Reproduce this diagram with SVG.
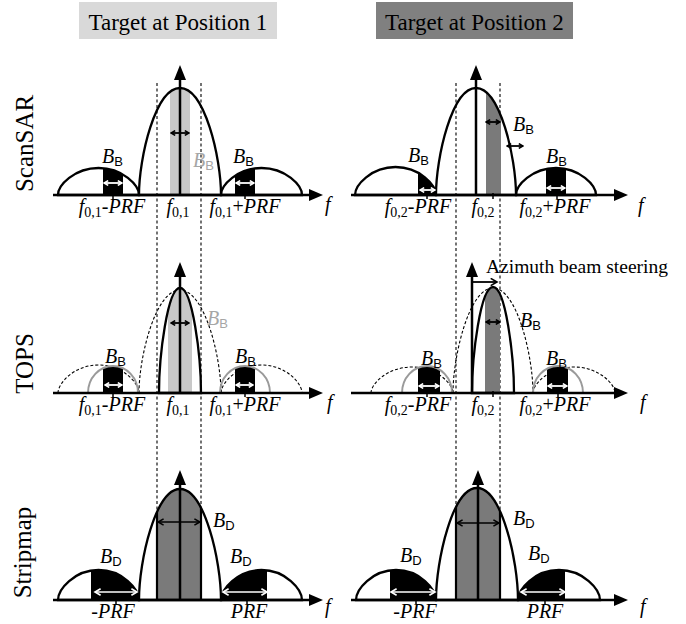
<svg xmlns="http://www.w3.org/2000/svg" xmlns:xlink="http://www.w3.org/1999/xlink" width="686" height="624" viewBox="0 0 686 624">
<style>
.ax{stroke:#000;stroke-width:2.5;fill:none}
.lobe{stroke:#000;stroke-width:2.3;fill:none}
.dash{stroke:#000;stroke-width:1.1;stroke-dasharray:3 2.5;fill:none}
.dl{stroke:#000;stroke-width:1.1;stroke-dasharray:3 2;fill:none}
.garc{stroke:#9a9a9a;stroke-width:2;fill:none}
.tick{stroke:#000;stroke-width:1.5}
.t{font-family:"Liberation Serif","Times New Roman",serif;font-size:20px;fill:#000}
.it{font-style:italic}
.sub{font-size:14px;font-style:normal}
.ss{font-family:"Liberation Sans",Arial,sans-serif;font-size:13px;font-style:normal}
.ah{fill:#000}
.ba{stroke:#000;stroke-width:1.8;fill:none;marker-start:url(#hb);marker-end:url(#hb)}
.wa{stroke:#fff;stroke-width:1.8;fill:none;marker-start:url(#hw);marker-end:url(#hw)}
.bl{stroke:#000;stroke-width:1.5;fill:none;marker-start:url(#hbL);marker-end:url(#hbL)}
.wl{stroke:#fff;stroke-width:1.6;fill:none;marker-start:url(#hwL);marker-end:url(#hwL)}
.side{font-family:"Liberation Serif","Times New Roman",serif;font-size:25px;fill:#000}
.hd{font-family:"Liberation Serif","Times New Roman",serif;font-size:23px;fill:#000}
</style>
<defs>
<marker id="hb" viewBox="0 0 10 10" refX="8" refY="5" markerWidth="6" markerHeight="6" markerUnits="userSpaceOnUse" orient="auto-start-reverse"><path d="M1,1 L8,5 L1,9" fill="none" stroke="#000" stroke-width="2.6"/></marker>
<marker id="hw" viewBox="0 0 10 10" refX="8" refY="5" markerWidth="6" markerHeight="6" markerUnits="userSpaceOnUse" orient="auto-start-reverse"><path d="M1,1 L8,5 L1,9" fill="none" stroke="#fff" stroke-width="2.6"/></marker>
<marker id="hbL" viewBox="0 0 10 10" refX="8" refY="5" markerWidth="8" markerHeight="8" markerUnits="userSpaceOnUse" orient="auto-start-reverse"><path d="M1,1 L8,5 L1,9" fill="none" stroke="#000" stroke-width="1.9"/></marker>
<marker id="hwL" viewBox="0 0 10 10" refX="8" refY="5" markerWidth="8" markerHeight="8" markerUnits="userSpaceOnUse" orient="auto-start-reverse"><path d="M1,1 L8,5 L1,9" fill="none" stroke="#fff" stroke-width="2"/></marker>
<marker id="hbA" viewBox="0 0 10 10" refX="8" refY="5" markerWidth="9" markerHeight="9" markerUnits="userSpaceOnUse" orient="auto"><path d="M1,1 L8,5 L1,9" fill="none" stroke="#000" stroke-width="1.8"/></marker>

<path id="p1LM" d="M139,195 C139,157.5 155.4,88 180,88 C204.6,88 221,157.5 221,195 Z"/>
<path id="p1LA" d="M58,195 C58,185.5 74.2,168 98.5,168 C122.8,168 139,185.5 139,195 Z"/>
<path id="p1LB" d="M221,195 C221,185.5 237.2,168 261.5,168 C285.8,168 302,185.5 302,195 Z"/>
<path id="p1RM" d="M436,195 C436,157.5 452,88 476,88 C500,88 516,157.5 516,195 Z"/>
<path id="p1RA" d="M355,195 C355,185.2 371.2,167 395.5,167 C419.8,167 436,185.2 436,195 Z"/>
<path id="p1RB" d="M516,195 C516,185.5 532,168 556,168 C580,168 596,185.5 596,195 Z"/>

<path id="p2LN" d="M159,393 C159,356.3 167.4,288 180,288 C192.6,288 201,356.3 201,393 Z"/>
<path id="p2LGA" d="M88,393 A25,27 0 0 1 138,393 Z"/>
<path id="p2LGB" d="M220,393 A25,27 0 0 1 270,393 Z"/>
<path id="p2RN" d="M472,393 C472,355.9 480.4,287 493,287 C505.6,287 514,355.9 514,393 Z"/>
<path id="p2RGA" d="M402,393 A25,27 0 0 1 452,393 Z"/>
<path id="p2RGB" d="M533,393 A25,27 0 0 1 583,393 Z"/>

<path id="p3LM" d="M139,600 C139,561.2 155.4,489 180,489 C204.6,489 221,561.2 221,600 Z"/>
<path id="p3LA" d="M58,600 C58,589.5 74.2,570 98.5,570 C122.8,570 139,589.5 139,600 Z"/>
<path id="p3LB" d="M221,600 C221,589.5 237.2,570 261.5,570 C285.8,570 302,589.5 302,600 Z"/>
<path id="p3RM" d="M436,600 C436,560.8 452.4,488 477,488 C501.6,488 518,560.8 518,600 Z"/>
<path id="p3RA" d="M356,600 C356,589.5 372,570 396,570 C420,570 436,589.5 436,600 Z"/>
<path id="p3RB" d="M518,600 C518,589.5 534.4,570 559,570 C583.6,570 600,589.5 600,600 Z"/>

<clipPath id="c1LM"><use xlink:href="#p1LM"/></clipPath>
<clipPath id="c1LA"><use xlink:href="#p1LA"/></clipPath>
<clipPath id="c1LB"><use xlink:href="#p1LB"/></clipPath>
<clipPath id="c1RM"><use xlink:href="#p1RM"/></clipPath>
<clipPath id="c1RA"><use xlink:href="#p1RA"/></clipPath>
<clipPath id="c1RB"><use xlink:href="#p1RB"/></clipPath>
<clipPath id="c2LN"><use xlink:href="#p2LN"/></clipPath>
<clipPath id="c2LGA"><use xlink:href="#p2LGA"/></clipPath>
<clipPath id="c2LGB"><use xlink:href="#p2LGB"/></clipPath>
<clipPath id="c2RN"><use xlink:href="#p2RN"/></clipPath>
<clipPath id="c2RGA"><use xlink:href="#p2RGA"/></clipPath>
<clipPath id="c2RGB"><use xlink:href="#p2RGB"/></clipPath>
<clipPath id="c3LM"><use xlink:href="#p3LM"/></clipPath>
<clipPath id="c3LA"><use xlink:href="#p3LA"/></clipPath>
<clipPath id="c3LB"><use xlink:href="#p3LB"/></clipPath>
<clipPath id="c3RM"><use xlink:href="#p3RM"/></clipPath>
<clipPath id="c3RA"><use xlink:href="#p3RA"/></clipPath>
<clipPath id="c3RB"><use xlink:href="#p3RB"/></clipPath>
</defs>

<rect width="686" height="624" fill="#fff"/>

<!-- headers -->
<g id="header1">
<rect x="79" y="2" width="198" height="37" fill="#d9d9d9"/>
<text class="hd" x="178" y="30" text-anchor="middle">Target at Position 1</text>
</g>
<g id="header2">
<rect x="376" y="2" width="197" height="37" fill="#808080"/>
<text class="hd" x="474.5" y="30" text-anchor="middle">Target at Position 2</text>
</g>

<!-- row labels -->
<g id="rowlabels">
<text class="side" transform="translate(33,143.5) rotate(-90)" text-anchor="middle">ScanSAR</text>
<text class="side" transform="translate(33,363.5) rotate(-90)" text-anchor="middle">TOPS</text>
<text class="side" transform="translate(31,552.5) rotate(-90)" text-anchor="middle">Stripmap</text>
</g>

<!-- dashed guide lines -->
<g id="connectors">
<line class="dash" x1="157" y1="83" x2="157" y2="600"/>
<line class="dash" x1="201" y1="83" x2="201" y2="600"/>
<line class="dash" x1="456" y1="83" x2="456" y2="600"/>
<line class="dash" x1="500" y1="83" x2="500" y2="600"/>
</g>

<!-- ROW 1 ScanSAR left -->
<g id="scansar-1">
<g clip-path="url(#c1LM)"><rect x="170" y="80" width="20" height="120" fill="#c8c8c8"/></g>
<g clip-path="url(#c1LA)"><rect x="103" y="160" width="20" height="40" fill="#000"/></g>
<g clip-path="url(#c1LB)"><rect x="235" y="160" width="20" height="40" fill="#000"/></g>
<use xlink:href="#p1LM" class="lobe"/>
<use xlink:href="#p1LA" class="lobe"/>
<use xlink:href="#p1LB" class="lobe"/>
<line class="ax" x1="53" y1="195" x2="312" y2="195"/>
<polygon class="ah" points="323,195 309,189 309,201"/>
<line class="ax" x1="180" y1="195" x2="180" y2="78"/>
<polygon class="ah" points="180,65 174,80 186,80"/>
<line class="tick" x1="113" y1="193" x2="113" y2="199"/>
<line class="tick" x1="245" y1="193" x2="245" y2="199"/>
<line class="ba" x1="171" y1="133" x2="189" y2="133"/>
<line class="wa" x1="104" y1="183" x2="122" y2="183"/>
<line class="wa" x1="236" y1="183" x2="254" y2="183"/>
<text class="t it" x="102" y="163">B<tspan class="ss" dy="3">B</tspan></text>
<text class="t it" x="193" y="167" style="fill:#a6a6a6">B<tspan class="ss" dy="3">B</tspan></text>
<text class="t it" x="233" y="163">B<tspan class="ss" dy="3">B</tspan></text>
<text class="t" x="112" y="213" text-anchor="middle"><tspan class="it">f</tspan><tspan class="sub" dy="4">0,1</tspan><tspan dy="-4">-</tspan><tspan class="it">PRF</tspan></text>
<text class="t" x="178" y="213" text-anchor="middle"><tspan class="it">f</tspan><tspan class="sub" dy="4">0,1</tspan></text>
<text class="t" x="245" y="213" text-anchor="middle"><tspan class="it">f</tspan><tspan class="sub" dy="4">0,1</tspan><tspan dy="-4">+</tspan><tspan class="it">PRF</tspan></text>
<text class="t it" x="325" y="211">f</text>
</g>

<!-- ROW 1 ScanSAR right -->
<g id="scansar-2">
<g clip-path="url(#c1RM)"><rect x="486" y="80" width="15" height="120" fill="#7a7a7a"/></g>
<g clip-path="url(#c1RA)"><rect x="418" y="160" width="20" height="40" fill="#000"/></g>
<g clip-path="url(#c1RB)"><rect x="546" y="160" width="20" height="40" fill="#000"/></g>
<use xlink:href="#p1RM" class="lobe"/>
<use xlink:href="#p1RA" class="lobe"/>
<use xlink:href="#p1RB" class="lobe"/>
<line class="ax" x1="351" y1="195" x2="617" y2="195"/>
<polygon class="ah" points="628,195 614,189 614,201"/>
<line class="ax" x1="476" y1="195" x2="476" y2="78"/>
<polygon class="ah" points="476,65 470,80 482,80"/>
<line class="tick" x1="427" y1="193" x2="427" y2="199"/>
<line class="tick" x1="493" y1="193" x2="493" y2="199"/>
<line class="tick" x1="557" y1="193" x2="557" y2="199"/>
<line class="ba" x1="486" y1="122" x2="500" y2="122"/>
<line class="ba" x1="507" y1="146" x2="523" y2="146"/>
<line class="wa" x1="420" y1="190" x2="435" y2="190"/>
<line class="wa" x1="547" y1="188" x2="565" y2="188"/>
<text class="t it" x="408" y="162">B<tspan class="ss" dy="3">B</tspan></text>
<text class="t it" x="513" y="131">B<tspan class="ss" dy="3">B</tspan></text>
<text class="t it" x="546" y="163">B<tspan class="ss" dy="3">B</tspan></text>
<text class="t" x="418" y="213" text-anchor="middle"><tspan class="it">f</tspan><tspan class="sub" dy="4">0,2</tspan><tspan dy="-4">-</tspan><tspan class="it">PRF</tspan></text>
<text class="t" x="483" y="213" text-anchor="middle"><tspan class="it">f</tspan><tspan class="sub" dy="4">0,2</tspan></text>
<text class="t" x="555" y="213" text-anchor="middle"><tspan class="it">f</tspan><tspan class="sub" dy="4">0,2</tspan><tspan dy="-4">+</tspan><tspan class="it">PRF</tspan></text>
<text class="t it" x="638" y="212">f</text>
</g>

<!-- ROW 2 TOPS left -->
<g id="tops-1">
<path class="dl" d="M139,393 C139,357 155.4,290 180,290 C204.6,290 221,357 221,393"/>
<path class="dl" d="M58,393 C58,383.2 74.2,365 98.5,365 C122.8,365 139,383.2 139,393"/>
<path class="dl" d="M221,393 C221,383.2 237.2,365 261.5,365 C285.8,365 302,383.2 302,393"/>
<g clip-path="url(#c2LN)"><rect x="168" y="280" width="24" height="120" fill="#c8c8c8"/></g>
<g clip-path="url(#c2LGA)"><rect x="103" y="360" width="20" height="40" fill="#000"/></g>
<g clip-path="url(#c2LGB)"><rect x="235" y="360" width="20" height="40" fill="#000"/></g>
<use xlink:href="#p2LN" class="lobe"/>
<path class="garc" d="M88,393 A25,27 0 0 1 138,393"/>
<path class="garc" d="M220,393 A25,27 0 0 1 270,393"/>
<line class="ax" x1="53" y1="393" x2="312" y2="393"/>
<polygon class="ah" points="323,393 309,387 309,399"/>
<line class="ax" x1="180" y1="393" x2="180" y2="275"/>
<polygon class="ah" points="180,262 174,277 186,277"/>
<line class="tick" x1="113" y1="391" x2="113" y2="397"/>
<line class="tick" x1="245" y1="391" x2="245" y2="397"/>
<line class="ba" x1="171" y1="323" x2="189" y2="323"/>
<line class="wa" x1="105" y1="385" x2="122" y2="385"/>
<line class="wa" x1="236" y1="385" x2="253" y2="385"/>
<text class="t it" x="105" y="363">B<tspan class="ss" dy="3">B</tspan></text>
<text class="t it" x="207" y="325" style="fill:#a6a6a6">B<tspan class="ss" dy="3">B</tspan></text>
<text class="t it" x="235" y="363">B<tspan class="ss" dy="3">B</tspan></text>
<text class="t" x="112" y="411" text-anchor="middle"><tspan class="it">f</tspan><tspan class="sub" dy="4">0,1</tspan><tspan dy="-4">-</tspan><tspan class="it">PRF</tspan></text>
<text class="t" x="178" y="411" text-anchor="middle"><tspan class="it">f</tspan><tspan class="sub" dy="4">0,1</tspan></text>
<text class="t" x="245" y="411" text-anchor="middle"><tspan class="it">f</tspan><tspan class="sub" dy="4">0,1</tspan><tspan dy="-4">+</tspan><tspan class="it">PRF</tspan></text>
<text class="t it" x="327" y="409">f</text>
</g>

<!-- ROW 2 TOPS right -->
<g id="tops-2">
<path class="dl" d="M453,393 C453,356.3 469,288 493,288 C517,288 533,356.3 533,393"/>
<path class="dl" d="M371,393 C371,383.9 387.4,367 412,367 C436.6,367 453,383.9 453,393"/>
<path class="dl" d="M533,393 C533,383.9 549.4,367 574,367 C598.6,367 615,383.9 615,393"/>
<g clip-path="url(#c2RN)"><rect x="485" y="280" width="15" height="120" fill="#7a7a7a"/></g>
<g clip-path="url(#c2RGA)"><rect x="418" y="360" width="22" height="40" fill="#000"/></g>
<g clip-path="url(#c2RGB)"><rect x="547" y="360" width="21" height="40" fill="#000"/></g>
<use xlink:href="#p2RN" class="lobe"/>
<path class="garc" d="M402,393 A25,27 0 0 1 452,393"/>
<path class="garc" d="M533,393 A25,27 0 0 1 583,393"/>
<line class="ax" x1="351" y1="393" x2="617" y2="393"/>
<polygon class="ah" points="628,393 614,387 614,399"/>
<line class="ax" x1="472" y1="393" x2="472" y2="275"/>
<polygon class="ah" points="472,262 466,277 478,277"/>
<line stroke="#000" stroke-width="1.8" marker-end="url(#hbA)" x1="472" y1="282" x2="497" y2="282"/>
<line class="tick" x1="427" y1="391" x2="427" y2="397"/>
<line class="tick" x1="493" y1="391" x2="493" y2="397"/>
<line class="tick" x1="558" y1="391" x2="558" y2="397"/>
<line class="ba" x1="486" y1="322" x2="500" y2="322"/>
<line class="wa" x1="419" y1="386" x2="439" y2="386"/>
<line class="wa" x1="548" y1="386" x2="567" y2="386"/>
<text class="t" x="486" y="273" style="font-size:19.5px">Azimuth beam steering</text>
<text class="t it" x="421" y="365">B<tspan class="ss" dy="3">B</tspan></text>
<text class="t it" x="520" y="327">B<tspan class="ss" dy="3">B</tspan></text>
<text class="t it" x="546" y="365">B<tspan class="ss" dy="3">B</tspan></text>
<text class="t" x="418" y="411" text-anchor="middle"><tspan class="it">f</tspan><tspan class="sub" dy="4">0,2</tspan><tspan dy="-4">-</tspan><tspan class="it">PRF</tspan></text>
<text class="t" x="483" y="411" text-anchor="middle"><tspan class="it">f</tspan><tspan class="sub" dy="4">0,2</tspan></text>
<text class="t" x="555" y="411" text-anchor="middle"><tspan class="it">f</tspan><tspan class="sub" dy="4">0,2</tspan><tspan dy="-4">+</tspan><tspan class="it">PRF</tspan></text>
<text class="t it" x="640" y="409">f</text>
</g>

<!-- ROW 3 Stripmap left -->
<g id="stripmap-1">
<g clip-path="url(#c3LM)"><rect x="157" y="480" width="44" height="125" fill="#7a7a7a"/><line x1="157" y1="480" x2="157" y2="600" stroke="#000" stroke-width="2.2"/><line x1="201" y1="480" x2="201" y2="600" stroke="#000" stroke-width="2.2"/></g>
<g clip-path="url(#c3LA)"><rect x="91" y="560" width="50" height="45" fill="#000"/></g>
<g clip-path="url(#c3LB)"><rect x="219" y="560" width="48" height="45" fill="#000"/></g>
<use xlink:href="#p3LM" class="lobe"/>
<use xlink:href="#p3LA" class="lobe"/>
<use xlink:href="#p3LB" class="lobe"/>
<line class="ax" x1="53" y1="600" x2="312" y2="600"/>
<polygon class="ah" points="323,600 309,594 309,606"/>
<line class="ax" x1="180" y1="600" x2="180" y2="483"/>
<polygon class="ah" points="180,470 174,485 186,485"/>
<line class="tick" x1="116" y1="598" x2="116" y2="604"/>
<line class="tick" x1="247" y1="598" x2="247" y2="604"/>
<line class="bl" x1="158" y1="522" x2="200" y2="522"/>
<line class="wl" x1="95" y1="592" x2="137" y2="592"/>
<line class="wl" x1="223" y1="592" x2="267" y2="592"/>
<text class="t it" x="213" y="527">B<tspan class="ss" dy="3">D</tspan></text>
<text class="t it" x="100" y="563">B<tspan class="ss" dy="3">D</tspan></text>
<text class="t it" x="230" y="563">B<tspan class="ss" dy="3">D</tspan></text>
<text class="t it" x="113" y="618" text-anchor="middle">-PRF</text>
<text class="t it" x="249" y="618" text-anchor="middle">PRF</text>
<text class="t it" x="325" y="613">f</text>
</g>

<!-- ROW 3 Stripmap right -->
<g id="stripmap-2">
<g clip-path="url(#c3RM)"><rect x="456" y="480" width="44" height="125" fill="#7a7a7a"/><line x1="456" y1="480" x2="456" y2="600" stroke="#000" stroke-width="2.2"/><line x1="500" y1="480" x2="500" y2="600" stroke="#000" stroke-width="2.2"/></g>
<g clip-path="url(#c3RA)"><rect x="390" y="560" width="48" height="45" fill="#000"/></g>
<g clip-path="url(#c3RB)"><rect x="516" y="560" width="49" height="45" fill="#000"/></g>
<use xlink:href="#p3RM" class="lobe"/>
<use xlink:href="#p3RA" class="lobe"/>
<use xlink:href="#p3RB" class="lobe"/>
<line class="ax" x1="351" y1="600" x2="617" y2="600"/>
<polygon class="ah" points="628,600 614,594 614,606"/>
<line class="ax" x1="478" y1="600" x2="478" y2="483"/>
<polygon class="ah" points="478,470 472,485 484,485"/>
<line class="tick" x1="416" y1="598" x2="416" y2="604"/>
<line class="tick" x1="545" y1="598" x2="545" y2="604"/>
<line class="bl" x1="457" y1="523" x2="499" y2="523"/>
<line class="wl" x1="391" y1="592" x2="435" y2="592"/>
<line class="wl" x1="521" y1="592" x2="565" y2="592"/>
<text class="t it" x="513" y="525">B<tspan class="ss" dy="3">D</tspan></text>
<text class="t it" x="400" y="562">B<tspan class="ss" dy="3">D</tspan></text>
<text class="t it" x="528" y="560">B<tspan class="ss" dy="3">D</tspan></text>
<text class="t it" x="415" y="618" text-anchor="middle">-PRF</text>
<text class="t it" x="545" y="618" text-anchor="middle">PRF</text>
<text class="t it" x="640" y="613">f</text>
</g>
</svg>
